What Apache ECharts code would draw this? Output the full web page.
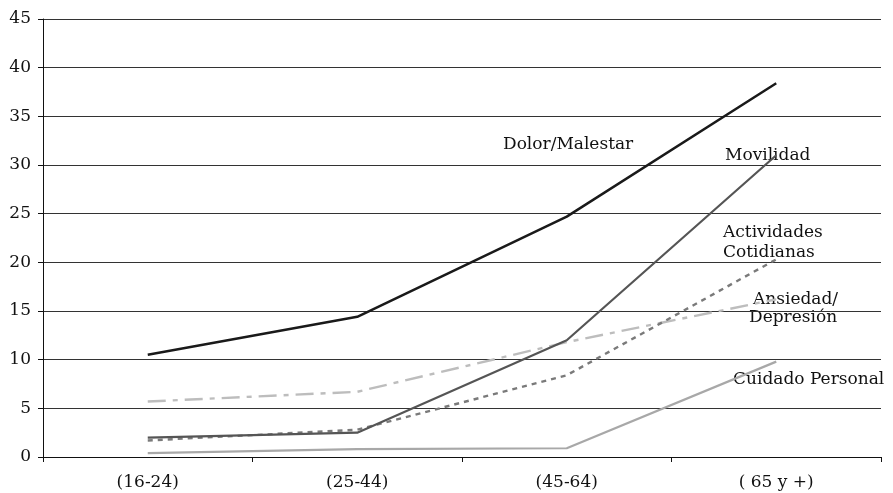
<!DOCTYPE html>
<html><head><meta charset="utf-8">
<script src="https://cdn.jsdelivr.net/npm/echarts@6/dist/echarts.min.js"></script>
<style>html,body{margin:0;padding:0;background:#fff}#c{width:893px;height:493px}</style>
</head><body><div id="c"></div>
<script>
const categories = ['(16-24)', '(25-44)', '(45-64)', '( 65 y +)'];
const dolorMalestar = [10.5, 14.4, 24.7, 38.4];
const movilidad = [2.0, 2.5, 12.0, 31.0];
const actividadesCotidianas = [1.7, 2.8, 8.4, 20.3];
const ansiedadDepresion = [5.7, 6.7, 11.8, 16.2];
const cuidadoPersonal = [0.4, 0.8, 0.9, 9.8];
const yTicks = [0, 5, 10, 15, 20, 25, 30, 35, 40, 45];

const FONT = 'DejaVu Serif';
const chart = echarts.init(document.getElementById('c'));
function line(name, data, color, width, type) {
  return { name, type: 'line', data, symbol: 'none', smooth: false,
    lineStyle: { color, width, type, cap: 'butt' }, itemStyle: { color } };
}
const txt = (text, x, y) => ({ type: 'text', left: x, top: y,
  style: { text, font: '17px "' + FONT + '"', fill: '#111' } });
chart.setOption({
  animation: false,
  backgroundColor: '#fff',
  grid: { left: 43, right: 12, top: 19, bottom: 36 },
  xAxis: {
    type: 'category', data: categories, boundaryGap: true,
    axisLine: { lineStyle: { color: '#111', width: 1 } },
    axisTick: { show: true, length: 5, lineStyle: { color: '#111' } },
    axisLabel: { fontFamily: FONT, fontSize: 17, color: '#111', margin: 17 }
  },
  yAxis: {
    type: 'value', min: yTicks[0], max: yTicks[yTicks.length - 1], interval: 5,
    axisLine: { show: true, lineStyle: { color: '#111', width: 1 } },
    axisTick: { show: true, length: 5, lineStyle: { color: '#111' } },
    axisLabel: { fontFamily: FONT, fontSize: 17, color: '#111', margin: 12 },
    splitLine: { lineStyle: { color: '#333', width: 1 } }
  },
  series: [
    line('Cuidado Personal', cuidadoPersonal, '#a8a8a8', 2.2, 'solid'),
    line('Ansiedad/Depresión', ansiedadDepresion, '#bdbdbd', 2.4, [18, 7, 5, 7]),
    line('Actividades Cotidianas', actividadesCotidianas, '#7a7a7a', 2.4, [5, 5]),
    line('Movilidad', movilidad, '#555555', 2.2, 'solid'),
    line('Dolor/Malestar', dolorMalestar, '#1a1a1a', 2.5, 'solid')
  ],
  graphic: [
    txt('Dolor/Malestar', 503, 136),
    txt('Movilidad', 725, 147),
    txt('Actividades', 723, 224),
    txt('Cotidianas', 723, 244),
    txt('Ansiedad/', 753, 291),
    txt('Depresión', 749, 309),
    txt('Cuidado Personal', 733, 371)
  ]
});
</script></body></html>
